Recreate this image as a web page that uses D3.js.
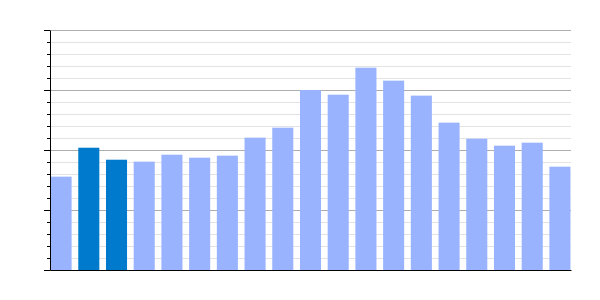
<!DOCTYPE html>
<html>
<head>
<meta charset="utf-8">
<script src="https://cdn.jsdelivr.net/npm/d3@7"></script>
<style>
  body { margin: 0; background: #fff; }
</style>
</head>
<body>
<div id="chart"></div>
<script>
// data (no labels shown in the original)
const categories = d3.range(1, 20).map(String);
const values = [7.78, 10.19, 9.19, 9.03, 9.61, 9.36, 9.53, 11.03, 11.86, 15.0,
                14.61, 16.86, 15.78, 14.53, 12.28, 10.94, 10.36, 10.61, 8.61];
const highlighted = ["2", "3"];
const majorTicks = [0, 5, 10, 15, 20];
const minorTicks = d3.range(0, 21, 1);

const width = 600, height = 300;
const margin = { top: 30, right: 29, bottom: 30, left: 50 };
const w = width - margin.left - margin.right;
const h = height - margin.top - margin.bottom;

var svg = d3.select("#chart")
  .append("svg")
  .attr("width", width)
  .attr("height", height)
  .append("g")
  .attr("transform", "translate(" + margin.left + "," + margin.top + ")");

var x = d3.scaleBand().range([0, w]).paddingInner(0.24).paddingOuter(0.02).domain(categories);
var y = d3.scaleLinear().range([h, 0]).domain([0, 20]);

// minor grid
svg.append("g")
  .selectAll("line")
  .data(minorTicks.filter((t) => t % 5 !== 0))
  .enter()
  .append("line")
  .attr("x1", 0)
  .attr("x2", w)
  .attr("y1", (d) => Math.round(y(d)) + 0.5)
  .attr("y2", (d) => Math.round(y(d)) + 0.5)
  .attr("stroke", "#e3e3e3");

// major grid
svg.append("g")
  .selectAll("line")
  .data(majorTicks)
  .enter()
  .append("line")
  .attr("x1", 0)
  .attr("x2", w)
  .attr("y1", (d) => Math.round(y(d)) + 0.5)
  .attr("y2", (d) => Math.round(y(d)) + 0.5)
  .attr("stroke", "#adadad");

// bars
svg.selectAll("rect.bar")
  .data(values)
  .enter()
  .append("rect")
  .attr("class", "bar")
  .attr("x", (d, i) => x(categories[i]))
  .attr("width", x.bandwidth())
  .attr("y", (d) => y(d))
  .attr("height", (d) => h - y(d))
  .style("fill", (d, i) => highlighted.includes(categories[i]) ? "#007acc" : "#99b3ff");

// y axis: minor and major ticks, no labels
svg.append("g")
  .call(d3.axisLeft(y).tickValues(minorTicks).tickSize(3).tickFormat("").tickSizeOuter(0))
  .call((g) => g.selectAll("line, path").attr("stroke", "#000"));
svg.append("g")
  .call(d3.axisLeft(y).tickValues(majorTicks).tickSize(6).tickFormat("").tickSizeOuter(0))
  .call((g) => g.select("path").remove())
  .call((g) => g.selectAll("line").attr("stroke", "#000"));

// x axis line
svg.append("g")
  .attr("transform", "translate(0," + h + ")")
  .call(d3.axisBottom(x).tickSize(0).tickFormat("").tickSizeOuter(0))
  .call((g) => g.select("path").attr("stroke", "#000"));
</script>
</body>
</html>
